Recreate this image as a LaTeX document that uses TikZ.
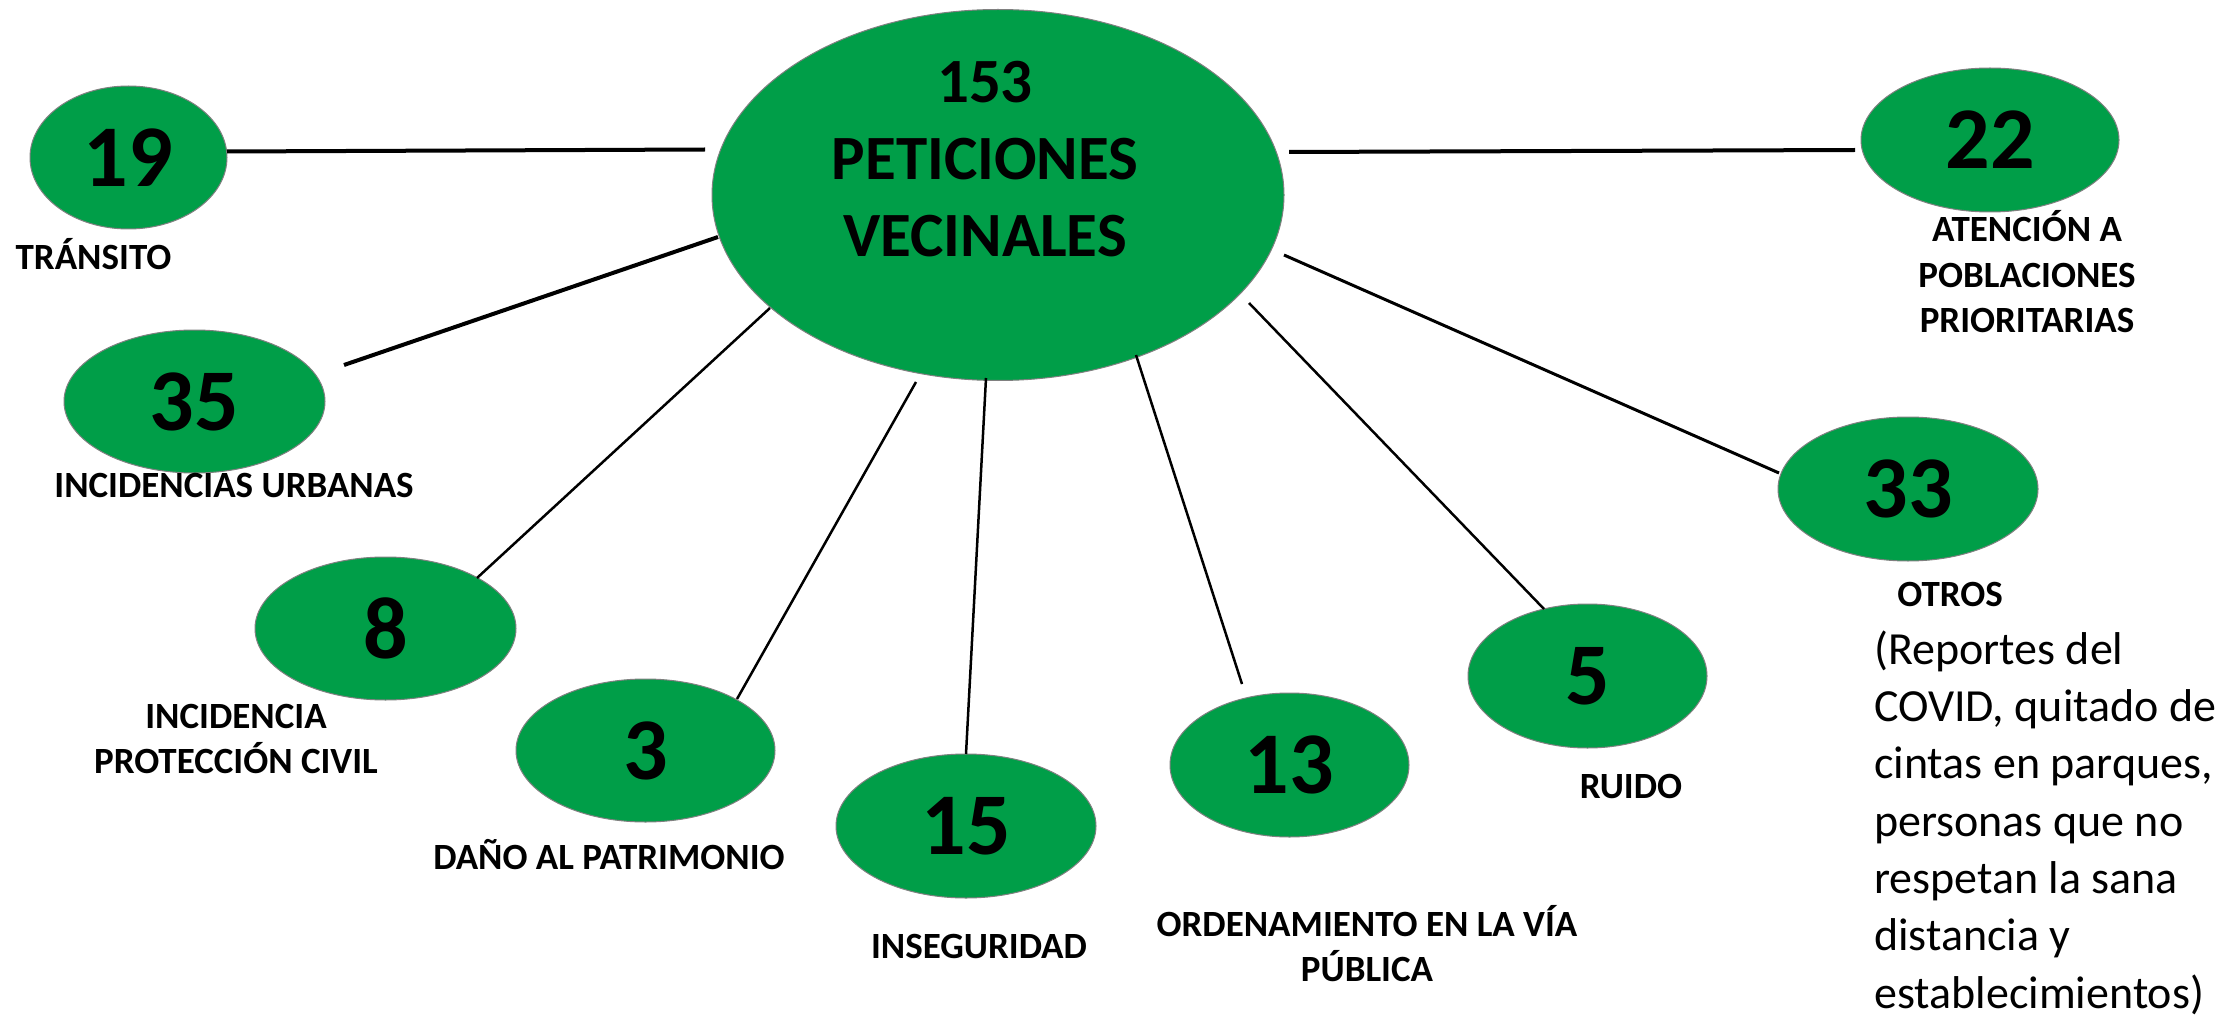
\documentclass[tikz,border=0pt]{standalone}
\usepackage{fontspec}
\setmainfont{Carlito}
\usetikzlibrary{shapes.geometric}
\definecolor{bubble}{RGB}{0,158,72}
\definecolor{rim}{RGB}{128,128,128}
\tikzset{
  bubble/.style={ellipse, fill=bubble, draw=rim, line width=1pt, inner sep=0pt,
    font=\bfseries\fontsize{88}{88}\selectfont},
  hub/.style={ellipse, fill=bubble, draw=rim, line width=1pt, inner sep=0pt},
  lbl/.style={inner sep=0pt, align=center, anchor=base, font=\bfseries\fontsize{37}{45}\selectfont},
  hubtxt/.style={inner sep=0pt, align=center, anchor=base, font=\bfseries\fontsize{63}{77}\selectfont},
  note/.style={inner sep=0pt, align=left, anchor=base west, font=\fontsize{46}{57.3}\selectfont},
  thick link/.style={line width=4pt},
  thin link/.style={line width=2.5pt},
}
\begin{document}
\begin{tikzpicture}[x=1pt,y=-1pt]
\useasboundingbox (0,0) rectangle (2238,1016);
% hub
\node[hub, minimum width=572pt, minimum height=371pt] (big) at (998,195) {};
\node[hubtxt] (bigtxt) at (985,257) {153\\PETICIONES\\VECINALES};
% bubbles
\node[bubble, minimum width=197pt, minimum height=143pt] (n19) at (128.5,157.5) {19};
\node[bubble, minimum width=258pt, minimum height=144pt] (n22) at (1990,140) {22};
\node[bubble, minimum width=261pt, minimum height=143pt] (n35) at (194.5,401.5) {35};
\node[bubble, minimum width=261pt, minimum height=143pt] (n8) at (385.5,628.5) {8};
\node[bubble, minimum width=259pt, minimum height=143pt] (n3) at (645.5,750.5) {3};
\node[bubble, minimum width=260pt, minimum height=144pt] (n15) at (966,826) {15};
\node[bubble, minimum width=239pt, minimum height=144pt] (n13) at (1289.5,765) {13};
\node[bubble, minimum width=239pt, minimum height=144pt] (n5) at (1587.5,676) {5};
\node[bubble, minimum width=260pt, minimum height=144pt] (n33) at (1908,489) {33};
% labels
\node[lbl] (l19) at (93.5,270) {TRÁNSITO};
\node[lbl] (l22) at (2027,332) {ATENCIÓN A\\POBLACIONES\\PRIORITARIAS};
\node[lbl] (l35) at (234,497) {INCIDENCIAS URBANAS};
\node[lbl] (l8) at (236,773) {INCIDENCIA\\PROTECCIÓN CIVIL};
\node[lbl] (l3) at (609,869) {DAÑO AL PATRIMONIO};
\node[lbl] (l15) at (979,958) {INSEGURIDAD};
\node[lbl] (l13) at (1367,981) {ORDENAMIENTO EN LA VÍA\\PÚBLICA};
\node[lbl] (l5) at (1631,798) {RUIDO};
\node[lbl] (l33) at (1950,606) {OTROS};
\node[note] (l33b) at (1874,1008) {(Reportes del\\COVID, quitado de\\cintas en parques,\\personas que no\\respetan la sana\\distancia y\\establecimientos)};
% connector ends
\coordinate (a19) at (705,149.5);  \coordinate (b19) at (227,151.5);
\coordinate (a22) at (1289,152);   \coordinate (b22) at (1855,150);
\coordinate (a35) at (718,237);    \coordinate (b35) at (344,365);
\coordinate (a8)  at (770,308);    \coordinate (b8)  at (477,578);
\coordinate (a3)  at (916,382);    \coordinate (b3)  at (737,699);
\coordinate (a15) at (986,378);    \coordinate (b15) at (966,754);
\coordinate (a13) at (1136,355);   \coordinate (b13) at (1242,684);
\coordinate (a5)  at (1249,303);   \coordinate (b5)  at (1544,609);
\coordinate (a33) at (1284,255);   \coordinate (b33) at (1779,473);
\draw[thick link] (a19) -- (b19);
\draw[thick link] (a22) -- (b22);
\draw[thick link] (a35) -- (b35);
\draw[thin link] (a8) -- (b8);
\draw[thin link] (a3) -- (b3);
\draw[thin link] (a15) -- (b15);
\draw[thin link] (a13) -- (b13);
\draw[thin link] (a5) -- (b5);
\draw[line width=3pt] (a33) -- (b33);
\end{tikzpicture}
\end{document}
